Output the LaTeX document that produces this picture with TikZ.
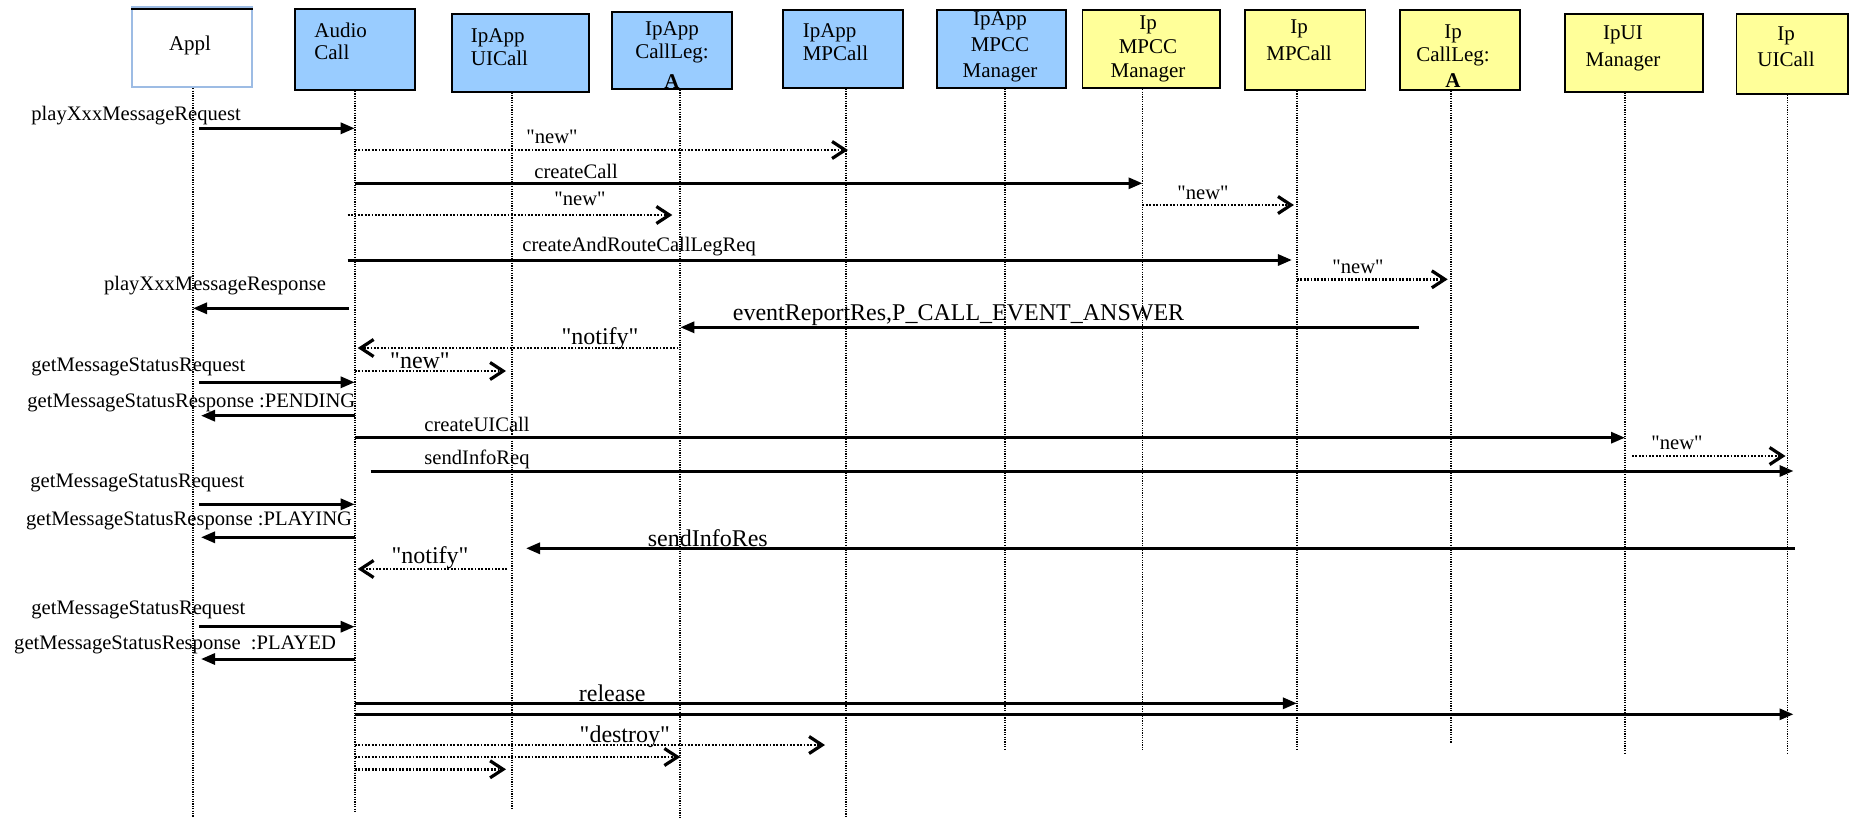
\documentclass[tikz,border=0pt]{standalone}
\usepackage{fontspec}
\setmainfont{Liberation Serif}
\usetikzlibrary{arrows.meta,fit,positioning}
\definecolor{appblue}{HTML}{99CCFF}
\definecolor{ipyellow}{HTML}{FFFF99}
\definecolor{frameblue}{HTML}{9DBCE4}
% straight double quote, kept out of the TeX ligature mapping
\newcommand{\dq}{\XeTeXglyph\XeTeXcharglyph"22\relax}
\tikzset{
  box/.style={draw=black,line width=0.9pt,inner sep=0pt},
  appbox/.style={box,fill=appblue},
  ipbox/.style={box,fill=ipyellow},
  boxtext/.style={inner sep=0pt,font=\fontsize{10.5}{11.2}\selectfont},
  lifeline/.style={line width=0.9pt,dash pattern=on 0.6pt off 0.6pt},
  msg/.style={line width=1.5pt,-{Triangle[length=7pt,width=5.5pt]}},
  dotmsg/.style={line width=1.3pt,dash pattern=on 0.9pt off 0.8pt,
    -{Straight Barb[length=6.5pt,width=8.5pt,line width=1.6pt]}},
  lbl/.style={inner sep=0pt,anchor=west,font=\fontsize{10.3}{12}\selectfont},
  biglbl/.style={lbl,font=\fontsize{12}{14}\selectfont}
}
\begin{document}
\begin{tikzpicture}[x=0.5pt,y=-0.5pt]
    \useasboundingbox (0,0) rectangle (1852,819);
    % objects
    \node[box,draw=frameblue,fill=white,fit={(131.7,6.7) (252.3,87.3)}] (appl) {};
    \draw[line width=0.8pt] ([yshift=-1.6pt]appl.north west) -- ([yshift=-1.6pt]appl.north east);
    \node[appbox,fit={(294.6,9) (415.2,90)}] (audio) {};
    \node[appbox,fit={(451.6,14) (589.2,91.7)}] (ipappui) {};
    \node[appbox,fit={(611.9,11.7) (731.7,89)}] (ipappleg) {};
    \node[appbox,fit={(782.7,10) (903.3,87.7)}] (ipappmp) {};
    \node[appbox,fit={(936.9,10) (1065.8,87.7)}] (ipappmpcc) {};
    \node[ipbox,fit={(1082.4,10) (1220,88.3)}] (ipmpcc) {};
    \node[ipbox,fit={(1244.9,10) (1365.5,90)}] (ipmp) {};
    \node[ipbox,fit={(1399.6,10) (1520.2,90)}] (ipleg) {};
    \node[ipbox,fit={(1565,14) (1703,91.7)}] (ipuimgr) {};
    \node[ipbox,fit={(1736.4,14) (1848,94)}] (ipui) {};
    \node[boxtext] (appl-t) at (190,45) {Appl};
    \node[boxtext,align=left,anchor=west] (audio-t) at (314,41.2) {Audio\\Call};
    \node[boxtext,align=left,anchor=west] (ipappui-t) at (470.5,47.2) {IpApp\\UICall};
    \node[boxtext,align=center,font=\fontsize{10.5}{11.7}\selectfont] (ipappleg-t) at (672,55)
        {IpApp\\CallLeg:\\[3pt]\textbf{A}};
    \node[boxtext,align=left,anchor=west] (ipappmp-t) at (802.4,42.2) {IpApp\\MPCall};
    \node[boxtext,align=center,font=\fontsize{10.5}{13}\selectfont] (ipappmpcc-t) at (1000,46.7)
        {IpApp\\MPCC\\Manager};
    \node[boxtext,align=center,font=\fontsize{10.5}{12}\selectfont] (ipmpcc-t) at (1148,49)
        {Ip\\MPCC\\Manager};
    \node[boxtext,align=center,font=\fontsize{10.5}{13.3}\selectfont] (ipmp-t) at (1299,40) {Ip\\MPCall};
    \node[boxtext,align=center,font=\fontsize{10.5}{11.7}\selectfont] (ipleg-t) at (1453,56)
        {Ip\\CallLeg:\\[1.3pt]\textbf{A}};
    \node[boxtext,align=center,font=\fontsize{10.5}{13.3}\selectfont] (ipuimgr-t) at (1623,48.3) {IpUI\\Manager};
    \node[boxtext,align=center,font=\fontsize{10.5}{13.3}\selectfont] (ipui-t) at (1786,46.7) {Ip\\UICall};
    % lifelines
    \foreach \n/\x/\y in {appl/193/816.7,audio/354.7/811.7,ipappui/512/808.3,
        ipappleg/680.3/818,ipappmp/846/818,ipappmpcc/1005.3/749.3,ipmpcc/1142.5/749.3,
        ipmp/1296.9/749.3,ipleg/1450.7/743.3,ipuimgr/1625/752.7,ipui/1787.5/753.3}
    {\coordinate (\n-end) at (\x,\y);
    \draw[lifeline] (\n.south -| \n-end) -- (\n-end);}
    % messages
    \node[lbl] (playreq) at (31,116) {playXxxMessageRequest};
    \draw[msg] ([xshift=3pt]appl-end |- 0,128.3) -- (audio-end |- 0,128.3);
    \node[lbl,anchor=center] (new1) at (552,136.7) {\dq new\dq};
    \draw[dotmsg] (audio-end |- 0,150) -- ([xshift=1pt]ipappmp-end |- 0,150);
    \node[lbl] (createcall) at (534,171.7) {createCall};
    \draw[msg] (audio-end |- 0,183.3) -- (ipmpcc-end |- 0,183.3);
    \node[lbl,anchor=center] (new2) at (1203,192.7) {\dq new\dq};
    \draw[dotmsg] (ipmpcc-end |- 0,205) -- ([xshift=-1.5pt]ipmp-end |- 0,205);
    \node[lbl,anchor=center] (new3) at (580,199) {\dq new\dq};
    \draw[dotmsg] ([xshift=-3.5pt]audio-end |- 0,215) -- ([xshift=-4pt]ipappleg-end |- 0,215);
    \node[lbl] (route) at (522,246.7) {createAndRouteCallLegReq};
    \draw[msg] ([xshift=-3.5pt]audio-end |- 0,260) -- ([xshift=-2.5pt]ipmp-end |- 0,260);
    \node[lbl,anchor=center] (new4) at (1358,266.7) {\dq new\dq};
    \draw[dotmsg] (ipmp-end |- 0,279.3) -- ([xshift=-1.5pt]ipleg-end |- 0,279.3);
    \node[lbl] (playres) at (103.6,286) {playXxxMessageResponse};
    \draw[msg] ([xshift=-3pt]audio-end |- 0,308.3) -- (appl-end |- 0,308.3);
    \node[biglbl] (evres) at (732.5,315) {eventReportRes,P\_CALL\_EVENT\_ANSWER};
    \draw[msg] ([xshift=-16pt]ipleg-end |- 0,327.3) -- (ipappleg-end |- 0,327.3);
    \node[biglbl,anchor=center] (notify1) at (600,338.3) {\dq notify\dq};
    \draw[dotmsg] ([xshift=-1pt]ipappleg-end |- 0,348) -- ([xshift=1.5pt]audio-end |- 0,348);
    \node[biglbl,anchor=center] (new5) at (420,360.7) {\dq new\dq};
    \draw[dotmsg] (audio-end |- 0,371) -- ([xshift=-3pt]ipappui-end |- 0,371);
    \node[lbl] (statreq1) at (31,366.7) {getMessageStatusRequest};
    \draw[msg] ([xshift=3pt]appl-end |- 0,382.3) -- (audio-end |- 0,382.3);
    \node[lbl] (statres1) at (27,402.7) {getMessageStatusResponse :PENDING};
    \draw[msg] (audio-end |- 0,415.7) -- ([xshift=4pt]appl-end |- 0,415.7);
    \node[lbl] (createui) at (424,424.3) {createUICall};
    \draw[msg] (audio-end |- 0,437.7) -- (ipuimgr-end |- 0,437.7);
    \node[lbl,anchor=center] (new6) at (1677,442.7) {\dq new\dq};
    \draw[dotmsg] ([xshift=3.5pt]ipuimgr-end |- 0,456) -- ([xshift=-1pt]ipui-end |- 0,456);
    \node[lbl] (inforeq) at (424,459.3) {sendInfoReq};
    \draw[msg] ([xshift=8pt]audio-end |- 0,471) -- ([xshift=3pt]ipui-end |- 0,471);
    \node[lbl] (statreq2) at (30,483.3) {getMessageStatusRequest};
    \draw[msg] ([xshift=3pt]appl-end |- 0,504.3) -- (audio-end |- 0,504.3);
    \node[lbl] (statres2) at (25.7,520.7) {getMessageStatusResponse :PLAYING};
    \draw[msg] (audio-end |- 0,537.3) -- ([xshift=4pt]appl-end |- 0,537.3);
    \node[biglbl] (infores) at (647.4,537.7) {sendInfoRes};
    \draw[msg] ([xshift=3.5pt]ipui-end |- 0,548.3) -- ([xshift=7pt]ipappui-end |- 0,548.3);
    \node[biglbl,anchor=center] (notify2) at (430,557.3) {\dq notify\dq};
    \draw[dotmsg] ([xshift=-2.5pt]ipappui-end |- 0,569) -- ([xshift=1.5pt]audio-end |- 0,569);
    \node[lbl] (statreq3) at (31,610) {getMessageStatusRequest};
    \draw[msg] ([xshift=3pt]appl-end |- 0,626.7) -- (audio-end |- 0,626.7);
    \node[lbl] (statres3) at (13.8,645) {getMessageStatusResponse\hspace{2.5pt} :PLAYED};
    \draw[msg] (audio-end |- 0,659) -- ([xshift=4pt]appl-end |- 0,659);
    \node[biglbl] (release) at (578.5,693.3) {release};
    \draw[msg] (audio-end |- 0,703.3) -- (ipmp-end |- 0,703.3);
    \draw[msg] (audio-end |- 0,714.3) -- ([xshift=3pt]ipui-end |- 0,714.3);
    \node[biglbl] (destroy) at (579.3,736.7) {\dq destroy\dq};
    \draw[dotmsg] (audio-end |- 0,745) -- ([xshift=-10.5pt]ipappmp-end |- 0,745);
    \draw[dotmsg] (audio-end |- 0,757) -- (ipappleg-end |- 0,757);
    \draw[dotmsg] (audio-end |- 0,769.3) -- ([xshift=-3pt]ipappui-end |- 0,769.3);
\end{tikzpicture}
\end{document}
